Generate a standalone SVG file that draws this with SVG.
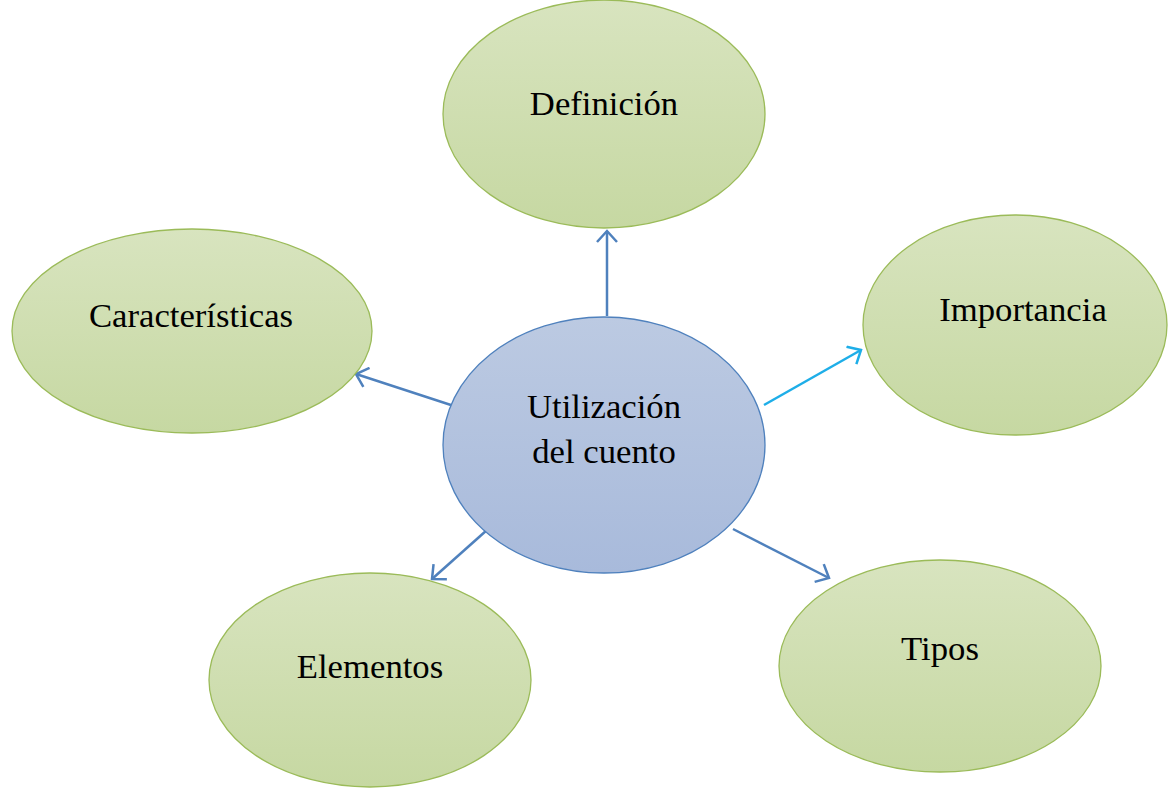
<svg xmlns="http://www.w3.org/2000/svg" width="1168" height="788" viewBox="0 0 1168 788">
<defs>
<linearGradient id="gGreen" x1="0" y1="0" x2="0" y2="1"><stop offset="0" stop-color="#d8e4bf"/><stop offset="1" stop-color="#c6d8a2"/></linearGradient>
<linearGradient id="gBlue" x1="0" y1="0" x2="0" y2="1"><stop offset="0" stop-color="#bccae2"/><stop offset="1" stop-color="#a8badb"/></linearGradient>
<marker id="arrB" markerWidth="14" markerHeight="22" refX="12" refY="11" orient="auto" markerUnits="userSpaceOnUse"><path d="M1,1 L12,11 L1,21" fill="none" stroke="#4f81bd" stroke-width="2.5"/></marker>
<marker id="arrC" markerWidth="14" markerHeight="22" refX="12" refY="11" orient="auto" markerUnits="userSpaceOnUse"><path d="M1,1 L12,11 L1,21" fill="none" stroke="#1eaee8" stroke-width="2.5"/></marker>
<style>
.g{fill:url(#gGreen);stroke:#9bbb59;stroke-width:1.3}
.b{fill:url(#gBlue);stroke:#4f81bd;stroke-width:1.3}
.t{font-family:"Liberation Serif","Times New Roman",serif;font-size:34.7px;fill:#000;text-anchor:middle}
.c{stroke:#4f81bd;stroke-width:2.5;fill:none;marker-end:url(#arrB)}
.cc{stroke:#1eaee8;stroke-width:2.5;fill:none;marker-end:url(#arrC)}
</style>
</defs>
<g id="connectors">
<line class="c" x1="607" y1="316" x2="607" y2="231"/>
<line class="c" x1="454" y1="406" x2="356" y2="374"/>
<line class="cc" x1="764" y1="405" x2="861" y2="350"/>
<line class="c" x1="487" y1="530" x2="432" y2="579"/>
<line class="c" x1="733" y1="529" x2="829" y2="578"/>
</g>
<g id="definicion"><ellipse class="g" cx="604" cy="114" rx="161" ry="114"/><text class="t" x="604" y="115">Definición</text></g>
<g id="caracteristicas"><ellipse class="g" cx="192" cy="331" rx="180" ry="102"/><text class="t" x="191" y="327">Características</text></g>
<g id="importancia"><ellipse class="g" cx="1015" cy="325" rx="152" ry="110"/><text class="t" x="1023" y="321">Importancia</text></g>
<g id="centro"><ellipse class="b" cx="604" cy="445" rx="161" ry="128"/><text class="t" x="604" y="418">Utilización</text><text class="t" x="604" y="463">del cuento</text></g>
<g id="elementos"><ellipse class="g" cx="370" cy="680" rx="161" ry="107"/><text class="t" x="370" y="678">Elementos</text></g>
<g id="tipos"><ellipse class="g" cx="940" cy="666" rx="161" ry="106"/><text class="t" x="940" y="660">Tipos</text></g>
</svg>
